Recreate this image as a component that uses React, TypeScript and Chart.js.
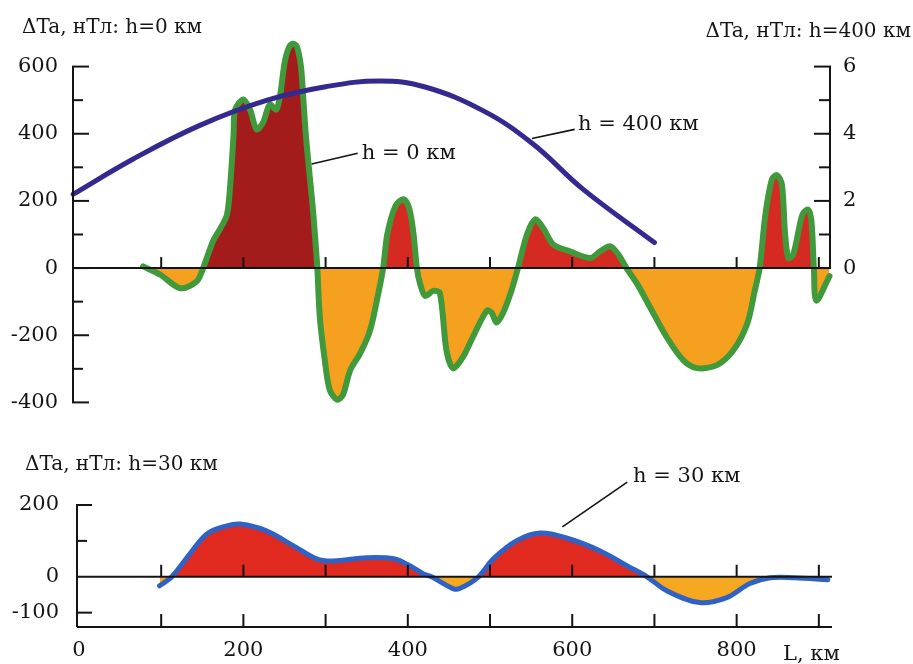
import React, { useEffect, useRef } from "react";
import { Chart, registerables } from "chart.js";

Chart.register(...registerables);

const FONT_FAMILY = '"DejaVu Serif", "Liberation Serif", serif';

// ---------- Top panel: ΔTa at h = 0 km (left axis, nT) ----------
const h0Km = [
  78, 99, 123, 143, 151, 163, 172, 180, 184, 188, 190, 200, 208, 216, 224, 232, 240, 245, 250, 255,
  260, 265, 270, 273, 276, 280, 284, 287, 290, 293, 299, 305, 314, 321, 330, 342, 354, 364, 370,
  375, 385, 395, 402, 407, 411, 415, 421, 431, 439, 447, 455, 467, 479, 496, 502, 508, 516, 526,
  534, 545, 555, 565, 577, 597, 622, 634, 646, 656, 666, 679, 695, 715, 735, 752, 776, 796, 813,
  822, 828, 835, 843, 849, 855, 859, 863, 869, 880, 887, 891, 894, 897, 913,
];
const h0Val = [
  5, -20, -60, -40, 0, 80, 118, 159, 248, 395, 472, 502, 472, 413, 434, 487, 472, 520, 610, 655,
  668, 660, 600, 500, 395, 290, 190, 100, 0, -147, -274, -363, -392, -378, -304, -254, -186, -77, 0,
  100, 185, 205, 175, 100, 0, -47, -83, -68, -74, -245, -298, -265, -206, -127, -133, -162, -133, -68,
  0, 100, 145, 118, 70, 50, 30, 50, 65, 41, 0, -47, -118, -206, -274, -298, -289, -245, -165,
  -68, 0, 159, 265, 277, 250, 100, 30, 41, 159, 174, 139, 0, -97, -24,
];

// ---------- Top panel: ΔTa at h = 400 km (right axis, nT) ----------
const h400Km = [-7, 66, 147, 229, 300, 365, 420, 492, 552, 613, 700];
const h400Val = [2.2, 3.25, 4.25, 5.0, 5.4, 5.57, 5.4, 4.68, 3.7, 2.35, 0.76];

// ---------- Bottom panel: ΔTa at h = 30 km ----------
const h30Km = [
  98, 113, 135, 156, 180, 196, 228, 261, 289, 309, 350, 383, 403, 419, 429, 455, 463, 486, 504,
  532, 561, 593, 634, 667, 691, 715, 755, 788, 816, 841, 870, 911,
];
const h30Val = [
  -25, 0, 64, 120, 142, 147, 128, 86, 50, 44, 53, 50, 30, 8, 0, -33, -33, 0, 50, 100, 122, 108, 72,
  30, 0, -39, -72, -58, -19, -3, -3, -8,
];

// ---------- Tick values and labels ----------
const topLeftTicks = [-400, -300, -200, -100, 0, 100, 200, 300, 400, 500, 600];
const topLeftLabels = [-400, -200, 0, 200, 400, 600];
const topRightTicks = [0, 1, 2, 3, 4, 5, 6];
const topRightLabels = [0, 2, 4, 6];
const distanceTicks = [100, 200, 300, 400, 500, 600, 700, 800, 900];
const bottomYTicks = [-100, 0, 100, 200];
const bottomYLabels = [-100, 0, 200];
const bottomXLabels = [0, 200, 400, 600, 800];

const titleTopLeft = "ΔTa, нТл: h=0 км";
const titleTopRight = "ΔTa, нТл: h=400 км";
const titleBottom = "ΔTa, нТл: h=30 км";
const xAxisName = "L, км";
const label0 = "h = 0 км";
const label400 = "h = 400 км";
const label30 = "h = 30 км";

// ---------- colours ----------
const DARK_RED = "#a41b1b";
const RED = "#d42a22";
const ORANGE = "#f5a11f";
const GREEN = "#40993a";
const PURPLE = "#33298f";
const B_RED = "#e0291f";
const B_ORANGE = "#f6a820";
const BLUE = "#2f62c4";
const INK = "#141414";

const pts = (xs: number[], ys: number[]) => xs.map((x, i) => ({ x, y: ys[i] }));
const SPLIT_KM = 290;

function seg(ctx: CanvasRenderingContext2D, x1: number, y1: number, x2: number, y2: number) {
  ctx.beginPath();
  ctx.moveTo(x1, y1);
  ctx.lineTo(x2, y2);
  ctx.stroke();
}

function text(ctx: CanvasRenderingContext2D, s: string, x: number, y: number, align: CanvasTextAlign, size: number) {
  ctx.font = `${size}px ${FONT_FAMILY}`;
  ctx.fillStyle = INK;
  ctx.textAlign = align;
  ctx.textBaseline = "alphabetic";
  ctx.fillText(s, x, y);
}

const topDecor = {
  id: "topDecor",
  afterDatasetsDraw(chart: any) {
    const { ctx, chartArea: a, scales } = chart;
    const x = scales.x, y = scales.y, y1 = scales.y1;
    ctx.save();
    ctx.strokeStyle = INK;
    ctx.lineWidth = 2;
    const lx = a.left;
    seg(ctx, lx, y.getPixelForValue(topLeftTicks[0]), lx, y.getPixelForValue(topLeftTicks[topLeftTicks.length - 1]));
    topLeftTicks.forEach((v) => {
      const py = y.getPixelForValue(v);
      seg(ctx, lx - 1, py, lx + (topLeftLabels.includes(v) ? 16 : 10), py);
    });
    const rx = a.right;
    seg(ctx, rx, y1.getPixelForValue(topRightTicks[0]), rx, y1.getPixelForValue(topRightTicks[topRightTicks.length - 1]));
    topRightTicks.forEach((v) => {
      const py = y1.getPixelForValue(v);
      seg(ctx, rx + 1, py, rx - (topRightLabels.includes(v) ? 16 : 11), py);
    });
    const zy = y.getPixelForValue(0);
    seg(ctx, lx, zy, rx, zy);
    distanceTicks.forEach((d) => {
      const px = x.getPixelForValue(d);
      seg(ctx, px, zy, px, zy - 11);
    });
    ctx.lineWidth = 1.6;
    seg(ctx, x.getPixelForValue(283), y.getPixelForValue(310), x.getPixelForValue(339), y.getPixelForValue(342));
    text(ctx, label0, x.getPixelForValue(344), y.getPixelForValue(326), "left", 21);
    seg(ctx, x.getPixelForValue(551), y.getPixelForValue(386), x.getPixelForValue(603), y.getPixelForValue(413));
    text(ctx, label400, x.getPixelForValue(607), y.getPixelForValue(410), "left", 21);
    text(ctx, titleTopLeft, 22, 33, "left", 20);
    text(ctx, titleTopRight, 911, 37, "right", 20);
    ctx.restore();
  },
};

const bottomDecor = {
  id: "bottomDecor",
  afterDatasetsDraw(chart: any) {
    const { ctx, chartArea: a, scales } = chart;
    const x = scales.x, y = scales.y;
    ctx.save();
    ctx.strokeStyle = INK;
    ctx.lineWidth = 2;
    const lx = a.left;
    seg(ctx, lx, a.bottom, lx, y.getPixelForValue(bottomYTicks[bottomYTicks.length - 1]));
    bottomYTicks.forEach((v) => {
      if (v === 0) return;
      const py = y.getPixelForValue(v);
      seg(ctx, lx - 1, py, lx + (bottomYLabels.includes(v) ? 15 : 10), py);
    });
    const zy = y.getPixelForValue(0);
    seg(ctx, lx, zy, a.right, zy);
    seg(ctx, lx, a.bottom, a.right, a.bottom);
    distanceTicks.forEach((d) => {
      const px = x.getPixelForValue(d);
      seg(ctx, px, zy, px, zy - 12);
      seg(ctx, px, a.bottom, px, a.bottom - 13);
    });
    ctx.lineWidth = 1.6;
    seg(ctx, x.getPixelForValue(588), y.getPixelForValue(139), x.getPixelForValue(667), y.getPixelForValue(264));
    text(ctx, label30, x.getPixelForValue(674), y.getPixelForValue(264), "left", 21);
    text(ctx, titleBottom, 25, 40, "left", 20);
    text(ctx, xAxisName, 783, 230, "left", 21);
    ctx.restore();
  },
};

const tickFont = { family: FONT_FAMILY, size: 21 };

function TopChart() {
  const ref = useRef<HTMLCanvasElement | null>(null);
  useEffect(() => {
    if (!ref.current) return;
    const all = pts(h0Km, h0Val);
    const splitIdx = h0Km.indexOf(SPLIT_KM);
    const partA = all.slice(0, splitIdx + 1);
    const partB = all.slice(splitIdx);
    const common = {
      borderColor: GREEN,
      borderWidth: 6,
      borderCapStyle: "round" as const,
      borderJoinStyle: "round" as const,
      pointRadius: 0,
      tension: 0.3,
      yAxisID: "y",
      clip: false as const,
      order: 2,
    };
    const chart = new Chart(ref.current, {
      type: "line",
      data: {
        datasets: [
          {
            label: "h = 400 км",
            data: pts(h400Km, h400Val),
            borderColor: PURPLE,
            borderWidth: 5,
            borderCapStyle: "round",
            pointRadius: 0,
            tension: 0.4,
            fill: false,
            yAxisID: "y1",
            clip: false,
            order: 0,
          },
          { ...common, label: "h = 0 км", data: partA, fill: { target: "origin", above: DARK_RED, below: ORANGE } },
          { ...common, label: "h = 0 км (b)", data: partB, fill: { target: "origin", above: RED, below: ORANGE } },
        ],
      },
      options: {
        animation: false,
        responsive: false,
        devicePixelRatio: 1,
        layout: { padding: { top: 33, bottom: 24, left: 0, right: 0 } },
        plugins: { legend: { display: false }, tooltip: { enabled: false } },
        scales: {
          x: { type: "linear", min: -7.3, max: 913.6, display: false },
          y: {
            type: "linear",
            position: "left",
            min: -400,
            max: 700,
            grid: { display: false, drawTicks: false },
            border: { display: false },
            afterBuildTicks: (s: any) => { s.ticks = topLeftTicks.map((v) => ({ value: v })); },
            afterFit: (s: any) => { s.width = 73; },
            ticks: {
              font: tickFont,
              color: INK,
              padding: 15,
              autoSkip: false,
              callback: (v: any) => (topLeftLabels.includes(Number(v)) ? String(v) : ""),
            },
          },
          y1: {
            type: "linear",
            position: "right",
            min: -4,
            max: 7,
            grid: { display: false, drawTicks: false },
            border: { display: false },
            afterBuildTicks: (s: any) => { s.ticks = topRightTicks.map((v) => ({ value: v })); },
            afterFit: (s: any) => { s.width = 83; },
            ticks: {
              font: tickFont,
              color: INK,
              padding: 13,
              autoSkip: false,
              callback: (v: any) => (topRightLabels.includes(Number(v)) ? String(v) : ""),
            },
          },
        },
      },
      plugins: [topDecor],
    } as any);
    return () => chart.destroy();
  }, []);
  return <canvas ref={ref} width={913} height={430} style={{ display: "block" }} />;
}

function BottomChart() {
  const ref = useRef<HTMLCanvasElement | null>(null);
  useEffect(() => {
    if (!ref.current) return;
    const chart = new Chart(ref.current, {
      type: "line",
      data: {
        datasets: [
          {
            label: "h = 30 км",
            data: pts(h30Km, h30Val),
            borderColor: BLUE,
            borderWidth: 5,
            borderCapStyle: "round",
            pointRadius: 0,
            tension: 0.35,
            fill: { target: "origin", above: B_RED, below: B_ORANGE },
            clip: false,
          },
        ],
      },
      options: {
        animation: false,
        responsive: false,
        devicePixelRatio: 1,
        layout: { padding: { top: 75, bottom: 0, left: 0, right: 81 } },
        plugins: { legend: { display: false }, tooltip: { enabled: false } },
        scales: {
          x: {
            type: "linear",
            position: "bottom",
            min: -2.4,
            max: 916,
            grid: { display: false, drawTicks: false },
            border: { display: false },
            afterBuildTicks: (s: any) => { s.ticks = bottomXLabels.map((v) => ({ value: v })); },
            afterFit: (s: any) => { s.height = 37; },
            ticks: { font: tickFont, color: INK, padding: 11, maxRotation: 0, autoSkip: false },
          },
          y: {
            type: "linear",
            position: "left",
            min: -140,
            max: 200,
            grid: { display: false, drawTicks: false },
            border: { display: false },
            afterBuildTicks: (s: any) => { s.ticks = bottomYTicks.map((v) => ({ value: v })); },
            afterFit: (s: any) => { s.width = 77; },
            ticks: {
              font: tickFont,
              color: INK,
              padding: 18,
              autoSkip: false,
              callback: (v: any) => (bottomYLabels.includes(Number(v)) ? String(v) : ""),
            },
          },
        },
      },
      plugins: [bottomDecor],
    } as any);
    return () => chart.destroy();
  }, []);
  return <canvas ref={ref} width={913} height={234} style={{ display: "block" }} />;
}

export default function App() {
  return (
    <div style={{ position: "absolute", left: 0, top: 0, width: 913, height: 664, background: "#fff" }}>
      <div style={{ position: "absolute", left: 0, top: 0, width: 913, height: 430 }}>
        <TopChart />
      </div>
      <div style={{ position: "absolute", left: 0, top: 430, width: 913, height: 234 }}>
        <BottomChart />
      </div>
    </div>
  );
}
